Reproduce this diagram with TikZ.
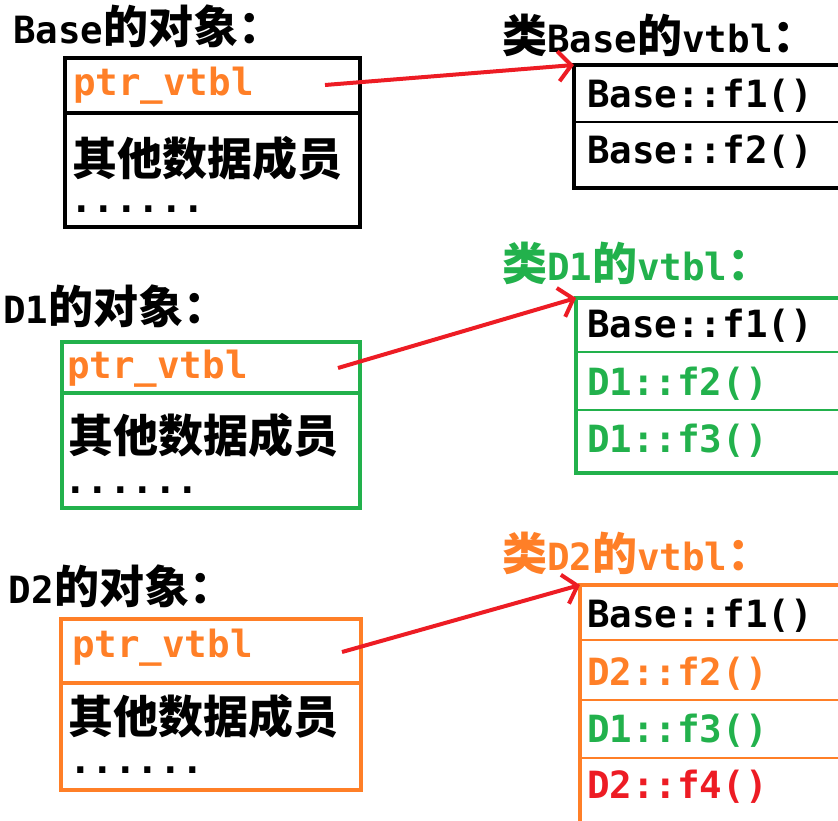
\documentclass[tikz,border=0pt]{standalone}
\usepackage{fontspec}
\usetikzlibrary{arrows.meta}
\newfontfamily\latf{DejaVu Sans Mono}
\newfontfamily\cjkf{Noto Sans CJK SC}
\definecolor{cOr}{HTML}{FF7F27}
\definecolor{cGr}{HTML}{22B14C}
\definecolor{cRd}{HTML}{ED1C24}
\newcommand{\La}[1]{{\latf\bfseries\fontsize{37.5}{40}\selectfont #1}}
\newcommand{\Cj}[1]{{\cjkf\bfseries\fontsize{45}{48}\selectfont #1}}
\tikzset{
  txt/.style={inner sep=0pt, outer sep=0pt, anchor=base west},
  boxframe/.style={draw=#1, line width=4.5pt, inner sep=0pt, outer sep=0pt, anchor=north west},
  objdiv/.style={line width=4pt},
  vdiv/.style={line width=2pt},
  ptrarrow/.style={draw=cRd, line width=4pt, -{Straight Barb[length=13pt,width=30pt,line width=4pt]}}
}
\begin{document}
\begin{tikzpicture}[x=1pt,y=-1pt]
\useasboundingbox (0,0) rectangle (838,820);
\clip (0,0) rectangle (838,820);

% ---------- Base ----------
\node[txt] (tb) at (13,43) {\La{Base}\Cj{的对象：}};
\node[boxframe=black, minimum width=295pt, minimum height=169pt] (bo) at (65,58) {};
\draw[objdiv] (bo.west |- 0,113) -- (bo.east |- 0,113);
\node[txt, text=cOr] (bp) at (73,95) {\La{ptr\_vtbl}};
\node[txt] (bm) at (72,175) {\Cj{其他数据成员}};
\node[txt] (bd) at (70,212) {\La{......}};

\node[txt] (tbv) at (502,52) {\Cj{类}\La{Base}\Cj{的}\La{vtbl}\Cj{：}};
\node[boxframe=black, minimum width=300pt, minimum height=123pt] (bv) at (574,65) {};
\draw[vdiv] (bv.west |- 0,122) -- (bv.east |- 0,122);
\node[txt] (bv1) at (587,107) {\La{Base::f1()}};
\node[txt] (bv2) at (587,163) {\La{Base::f2()}};
\coordinate (bs) at (325,85);
\draw[ptrarrow] (bs) -- (bv.north west);

% ---------- D1 ----------
\node[txt] (t1) at (3,323) {\La{D1}\Cj{的对象：}};
\node[boxframe=cGr, minimum width=298pt, minimum height=166pt] (o1) at (62,342) {};
\draw[objdiv, cGr] (o1.west |- 0,393) -- (o1.east |- 0,393);
\node[txt, text=cOr] (p1) at (67,378) {\La{ptr\_vtbl}};
\node[txt] (m1) at (68,452) {\Cj{其他数据成员}};
\node[txt] (d1) at (64,493) {\La{......}};

\node[txt, text=cGr] (t1v) at (502,280) {\Cj{类}\La{D1}\Cj{的}\La{vtbl}\Cj{：}};
\node[boxframe=cGr, minimum width=300pt, minimum height=175pt] (v1) at (576,298) {};
\draw[vdiv, cGr] (v1.west |- 0,352) -- (v1.east |- 0,352);
\draw[vdiv, cGr] (v1.west |- 0,410) -- (v1.east |- 0,410);
\node[txt] (v1a) at (587,337) {\La{Base::f1()}};
\node[txt, text=cGr] (v1b) at (587,395) {\La{D1::f2()}};
\node[txt, text=cGr] (v1c) at (587,452) {\La{D1::f3()}};
\coordinate (s1) at (338,368);
\draw[ptrarrow] (s1) -- (v1.north west);

% ---------- D2 ----------
\node[txt] (t2) at (9,603) {\La{D2}\Cj{的对象：}};
\node[boxframe=cOr, minimum width=300pt, minimum height=171pt] (o2) at (61,619) {};
\draw[objdiv, cOr] (o2.west |- 0,683) -- (o2.east |- 0,683);
\node[txt, text=cOr] (p2) at (72,657) {\La{ptr\_vtbl}};
\node[txt] (m2) at (68,733) {\Cj{其他数据成员}};
\node[txt] (d2) at (69,773) {\La{......}};

\node[txt, text=cOr] (t2v) at (502,570) {\Cj{类}\La{D2}\Cj{的}\La{vtbl}\Cj{：}};
\node[boxframe=cOr, minimum width=300pt, minimum height=260pt] (v2) at (580,585) {};
\draw[vdiv, cOr] (v2.west |- 0,640) -- (v2.east |- 0,640);
\draw[vdiv, cOr] (v2.west |- 0,700) -- (v2.east |- 0,700);
\draw[vdiv, cOr] (v2.west |- 0,758) -- (v2.east |- 0,758);
\node[txt] (v2a) at (587,627) {\La{Base::f1()}};
\node[txt, text=cOr] (v2b) at (587,685) {\La{D2::f2()}};
\node[txt, text=cGr] (v2c) at (587,742) {\La{D1::f3()}};
\node[txt, text=cRd] (v2d) at (587,798) {\La{D2::f4()}};
\coordinate (s2) at (342,652);
\draw[ptrarrow] (s2) -- (v2.north west);
\end{tikzpicture}
\end{document}
